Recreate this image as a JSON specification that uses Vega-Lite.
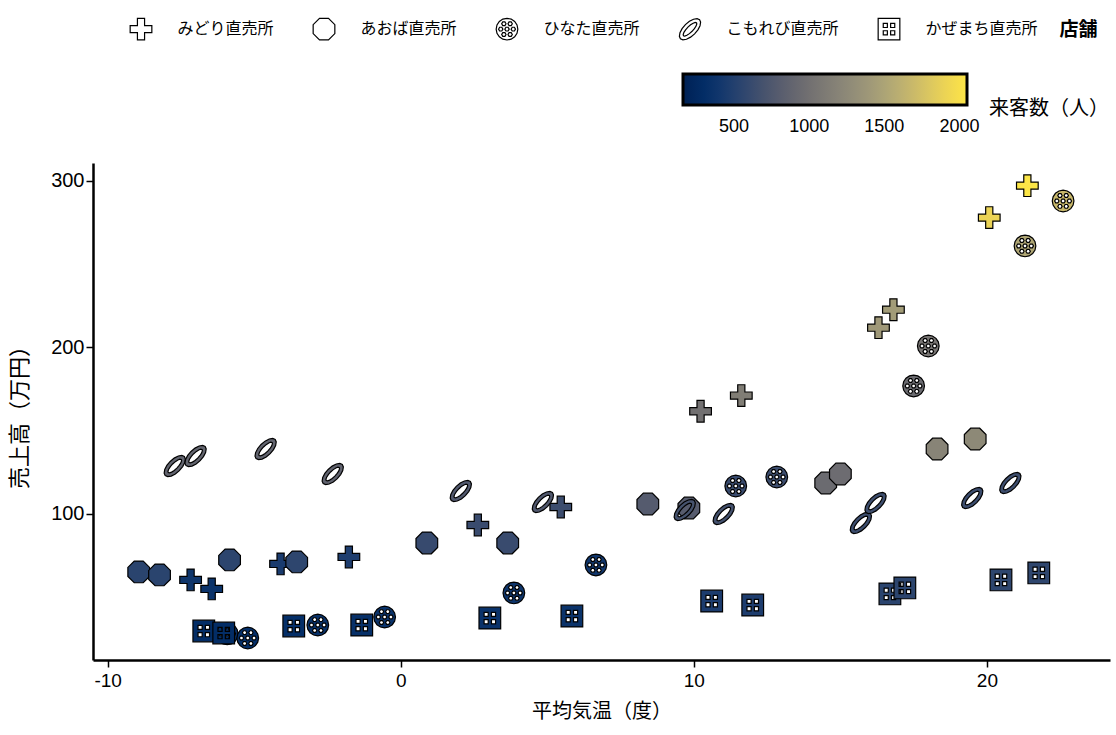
{
  "$schema": "https://vega.github.io/schema/vega-lite/v6.json",
  "width": 1017,
  "height": 497,
  "autosize": {"type": "none"},
  "padding": {"left": 93, "top": 163, "right": 6, "bottom": 75},
  "background": "white",
  "data": {
    "values": [
      {"store": "みどり直売所", "temp": -7.17, "sales": 60.4, "visitors": 380},
      {"store": "みどり直売所", "temp": -6.45, "sales": 55.0, "visitors": 360},
      {"store": "みどり直売所", "temp": -4.1, "sales": 70.0, "visitors": 450},
      {"store": "みどり直売所", "temp": -1.77, "sales": 74.2, "visitors": 470},
      {"store": "みどり直売所", "temp": 2.63, "sales": 93.4, "visitors": 620},
      {"store": "みどり直売所", "temp": 5.46, "sales": 104.2, "visitors": 640},
      {"store": "みどり直売所", "temp": 10.23, "sales": 161.7, "visitors": 1000},
      {"store": "みどり直売所", "temp": 11.62, "sales": 171.1, "visitors": 1130},
      {"store": "みどり直売所", "temp": 16.3, "sales": 211.9, "visitors": 1400},
      {"store": "みどり直売所", "temp": 16.81, "sales": 222.7, "visitors": 1430},
      {"store": "みどり直売所", "temp": 20.08, "sales": 278.0, "visitors": 1900},
      {"store": "みどり直売所", "temp": 21.38, "sales": 297.2, "visitors": 2050},
      {"store": "あおば直売所", "temp": -8.94, "sales": 65.2, "visitors": 540},
      {"store": "あおば直売所", "temp": -8.23, "sales": 63.4, "visitors": 540},
      {"store": "あおば直売所", "temp": -5.84, "sales": 72.4, "visitors": 550},
      {"store": "あおば直売所", "temp": -3.55, "sales": 71.2, "visitors": 560},
      {"store": "あおば直売所", "temp": 0.89, "sales": 82.6, "visitors": 610},
      {"store": "あおば直売所", "temp": 3.65, "sales": 82.6, "visitors": 620},
      {"store": "あおば直売所", "temp": 8.43, "sales": 106.0, "visitors": 790},
      {"store": "あおば直売所", "temp": 9.83, "sales": 103.6, "visitors": 800},
      {"store": "あおば直売所", "temp": 14.5, "sales": 118.6, "visitors": 950},
      {"store": "あおば直売所", "temp": 15.0, "sales": 124.0, "visitors": 960},
      {"store": "あおば直売所", "temp": 18.3, "sales": 139.0, "visitors": 1200},
      {"store": "あおば直売所", "temp": 19.6, "sales": 145.0, "visitors": 1250},
      {"store": "ひなた直売所", "temp": -5.92, "sales": 28.0, "visitors": 330},
      {"store": "ひなた直売所", "temp": -5.22, "sales": 25.5, "visitors": 320},
      {"store": "ひなた直売所", "temp": -2.83, "sales": 33.3, "visitors": 340},
      {"store": "ひなた直売所", "temp": -0.55, "sales": 38.1, "visitors": 360},
      {"store": "ひなた直売所", "temp": 3.86, "sales": 52.6, "visitors": 380},
      {"store": "ひなた直売所", "temp": 6.66, "sales": 69.4, "visitors": 400},
      {"store": "ひなた直売所", "temp": 11.43, "sales": 116.8, "visitors": 620},
      {"store": "ひなた直売所", "temp": 12.83, "sales": 122.2, "visitors": 640},
      {"store": "ひなた直売所", "temp": 17.5, "sales": 176.9, "visitors": 950},
      {"store": "ひなた直売所", "temp": 18.0, "sales": 200.9, "visitors": 1050},
      {"store": "ひなた直売所", "temp": 21.3, "sales": 261.0, "visitors": 1520},
      {"store": "ひなた直売所", "temp": 22.6, "sales": 288.0, "visitors": 1680},
      {"store": "こもれび直売所", "temp": -7.71, "sales": 128.8, "visitors": 880},
      {"store": "こもれび直売所", "temp": -7.0, "sales": 134.8, "visitors": 890},
      {"store": "こもれび直売所", "temp": -4.61, "sales": 139.0, "visitors": 880},
      {"store": "こもれび直売所", "temp": -2.32, "sales": 124.0, "visitors": 870},
      {"store": "こもれび直売所", "temp": 2.05, "sales": 113.8, "visitors": 770},
      {"store": "こもれび直売所", "temp": 4.85, "sales": 107.2, "visitors": 760},
      {"store": "こもれび直売所", "temp": 9.69, "sales": 102.4, "visitors": 690},
      {"store": "こもれび直売所", "temp": 11.02, "sales": 100.0, "visitors": 680},
      {"store": "こもれび直売所", "temp": 15.7, "sales": 94.6, "visitors": 640},
      {"store": "こもれび直売所", "temp": 16.2, "sales": 106.6, "visitors": 650},
      {"store": "こもれび直売所", "temp": 19.5, "sales": 109.6, "visitors": 640},
      {"store": "こもれび直売所", "temp": 20.8, "sales": 118.6, "visitors": 650},
      {"store": "かぜまち直売所", "temp": -6.72, "sales": 29.7, "visitors": 300},
      {"store": "かぜまち直売所", "temp": -6.04, "sales": 28.5, "visitors": 300},
      {"store": "かぜまち直売所", "temp": -3.65, "sales": 32.7, "visitors": 320},
      {"store": "かぜまち直売所", "temp": -1.33, "sales": 33.3, "visitors": 330},
      {"store": "かぜまち直売所", "temp": 3.04, "sales": 37.5, "visitors": 350},
      {"store": "かぜまち直売所", "temp": 5.84, "sales": 38.7, "visitors": 360},
      {"store": "かぜまち直売所", "temp": 10.61, "sales": 47.7, "visitors": 460},
      {"store": "かぜまち直売所", "temp": 12.01, "sales": 45.3, "visitors": 470},
      {"store": "かぜまち直売所", "temp": 16.69, "sales": 52.0, "visitors": 540},
      {"store": "かぜまち直売所", "temp": 17.2, "sales": 55.6, "visitors": 550},
      {"store": "かぜまち直売所", "temp": 20.48, "sales": 60.4, "visitors": 560},
      {"store": "かぜまち直売所", "temp": 21.77, "sales": 64.6, "visitors": 570}
    ]
  },
  "mark": {"type": "point", "filled": true, "stroke": "black", "strokeWidth": 1.2, "opacity": 1, "size": 470},
  "encoding": {
    "x": {
      "field": "temp", "type": "quantitative",
      "scale": {"domain": [-10.5, 24.2], "nice": false, "zero": false},
      "axis": {"values": [-10, 0, 10, 20], "labelExpr": "'' + datum.value", "labelFontSize": 19, "title": "平均気温（度）", "titleFontSize": 20, "titlePadding": 11, "labelPadding": 4}
    },
    "y": {
      "field": "sales", "type": "quantitative",
      "scale": {"domain": [12.3, 310.8], "nice": false, "zero": false},
      "axis": {"values": [100, 200, 300], "labelFontSize": 20, "title": "売上高（万円）", "titleFontSize": 22, "titlePadding": 19, "labelPadding": 2}
    },
    "fill": {
      "field": "visitors", "type": "quantitative",
      "scale": {"scheme": "cividis", "domain": [160, 2050]},
      "legend": {
        "orient": "none", "legendX": 590, "legendY": -89, "direction": "horizontal", "padding": 0,
        "gradientLength": 284, "gradientThickness": 31, "gradientStrokeColor": "black", "gradientStrokeWidth": 3,
        "values": [500, 1000, 1500, 2000], "format": "d",
        "labelFont": "Liberation Sans", "labelFontSize": 18, "labelColor": "black", "labelOffset": 13,
        "title": "来客数（人）", "titleOrient": "right", "titleFont": "Noto Sans CJK JP", "titleFontSize": 20,
        "titleFontWeight": "normal", "titleColor": "black", "titlePadding": 20, "titleAnchor": "middle",
        "titleBaseline": "line-top", "titleLineHeight": 38
      }
    },
    "shape": {
      "field": "store", "type": "nominal", "sort": null,
      "scale": {
        "domain": ["みどり直売所", "あおば直売所", "ひなた直売所", "こもれび直売所", "かぜまち直売所"],
        "range": [
          "M-0.33,-1L0.33,-1L0.33,-0.33L1,-0.33L1,0.33L0.33,0.33L0.33,1L-0.33,1L-0.33,0.33L-1,0.33L-1,-0.33L-0.33,-0.33Z",
          "M-0.414,-1L0.414,-1L1,-0.414L1,0.414L0.414,1L-0.414,1L-1,0.414L-1,-0.414Z",
          "M1,0L0.924,0.383L0.707,0.707L0.383,0.924L0,1L-0.383,0.924L-0.707,0.707L-0.924,0.383L-1,0L-0.924,-0.383L-0.707,-0.707L-0.383,-0.924L0,-1L0.383,-0.924L0.707,-0.707L0.924,-0.383ZM0.2,0L0.1,-0.173L-0.1,-0.173L-0.2,0L-0.1,0.173L0.1,0.173ZM0.78,0L0.68,-0.173L0.48,-0.173L0.38,0L0.48,0.173L0.68,0.173ZM-0.38,0L-0.48,-0.173L-0.68,-0.173L-0.78,0L-0.68,0.173L-0.48,0.173ZM0.49,-0.5L0.39,-0.673L0.19,-0.673L0.09,-0.5L0.19,-0.327L0.39,-0.327ZM-0.09,-0.5L-0.19,-0.673L-0.39,-0.673L-0.49,-0.5L-0.39,-0.327L-0.19,-0.327ZM0.49,0.5L0.39,0.327L0.19,0.327L0.09,0.5L0.19,0.673L0.39,0.673ZM-0.09,0.5L-0.19,0.327L-0.39,0.327L-0.49,0.5L-0.39,0.673L-0.19,0.673Z",
          "M0.884,-0.884L0.979,-0.655L0.925,-0.325L0.73,0.054L0.424,0.424L0.054,0.73L-0.325,0.925L-0.655,0.979L-0.884,0.884L-0.979,0.655L-0.925,0.325L-0.73,-0.054L-0.424,-0.424L-0.054,-0.73L0.325,-0.925L0.655,-0.979ZM0.601,-0.601L0.482,-0.628L0.29,-0.56L0.054,-0.406L-0.191,-0.191L-0.406,0.054L-0.56,0.29L-0.628,0.482L-0.601,0.601L-0.482,0.628L-0.29,0.56L-0.054,0.406L0.191,0.191L0.406,-0.054L0.56,-0.29L0.628,-0.482Z",
          "M-1,-1L1,-1L1,1L-1,1ZM-0.53,-0.53L-0.53,-0.15L-0.15,-0.15L-0.15,-0.53ZM0.15,-0.53L0.15,-0.15L0.53,-0.15L0.53,-0.53ZM-0.53,0.15L-0.53,0.53L-0.15,0.53L-0.15,0.15ZM0.15,0.15L0.15,0.53L0.53,0.53L0.53,0.15Z"
        ]
      },
      "legend": {
        "orient": "none", "legendX": 36.5, "legendY": -145.5, "direction": "horizontal", "columns": 5, "padding": 0,
        "columnPadding": 36, "symbolSize": 470, "labelOffset": 25,
        "symbolFillColor": "white", "symbolStrokeColor": "black", "symbolStrokeWidth": 1.2, "symbolOpacity": 1,
        "labelFont": "Noto Sans CJK JP", "labelFontSize": 16, "labelColor": "black", "labelBaseline": "middle",
        "title": "店舗", "titleOrient": "right", "titleFont": "Noto Sans CJK JP", "titleFontSize": 19,
        "titleFontWeight": "bold", "titleColor": "black", "titlePadding": 22, "titleAnchor": "middle", "titleBaseline": "middle",
        "encode": {"symbols": {
          "enter": {"fill": {"value": "white"}, "stroke": {"value": "black"}},
          "update": {"fill": {"value": "white"}, "stroke": {"value": "black"}, "strokeWidth": {"value": 1.2}, "opacity": {"value": 1}}
        }}
      }
    }
  },
  "config": {
    "view": {"stroke": null},
    "axis": {
      "grid": false, "domainColor": "black", "domainWidth": 2.5, "tickColor": "black", "tickWidth": 1.5, "tickSize": 7,
      "labelColor": "black", "labelFont": "Liberation Sans", "labelFontSize": 19,
      "titleFont": "Noto Sans CJK JP", "titleFontWeight": "normal", "titleColor": "black"
    }
  }
}
